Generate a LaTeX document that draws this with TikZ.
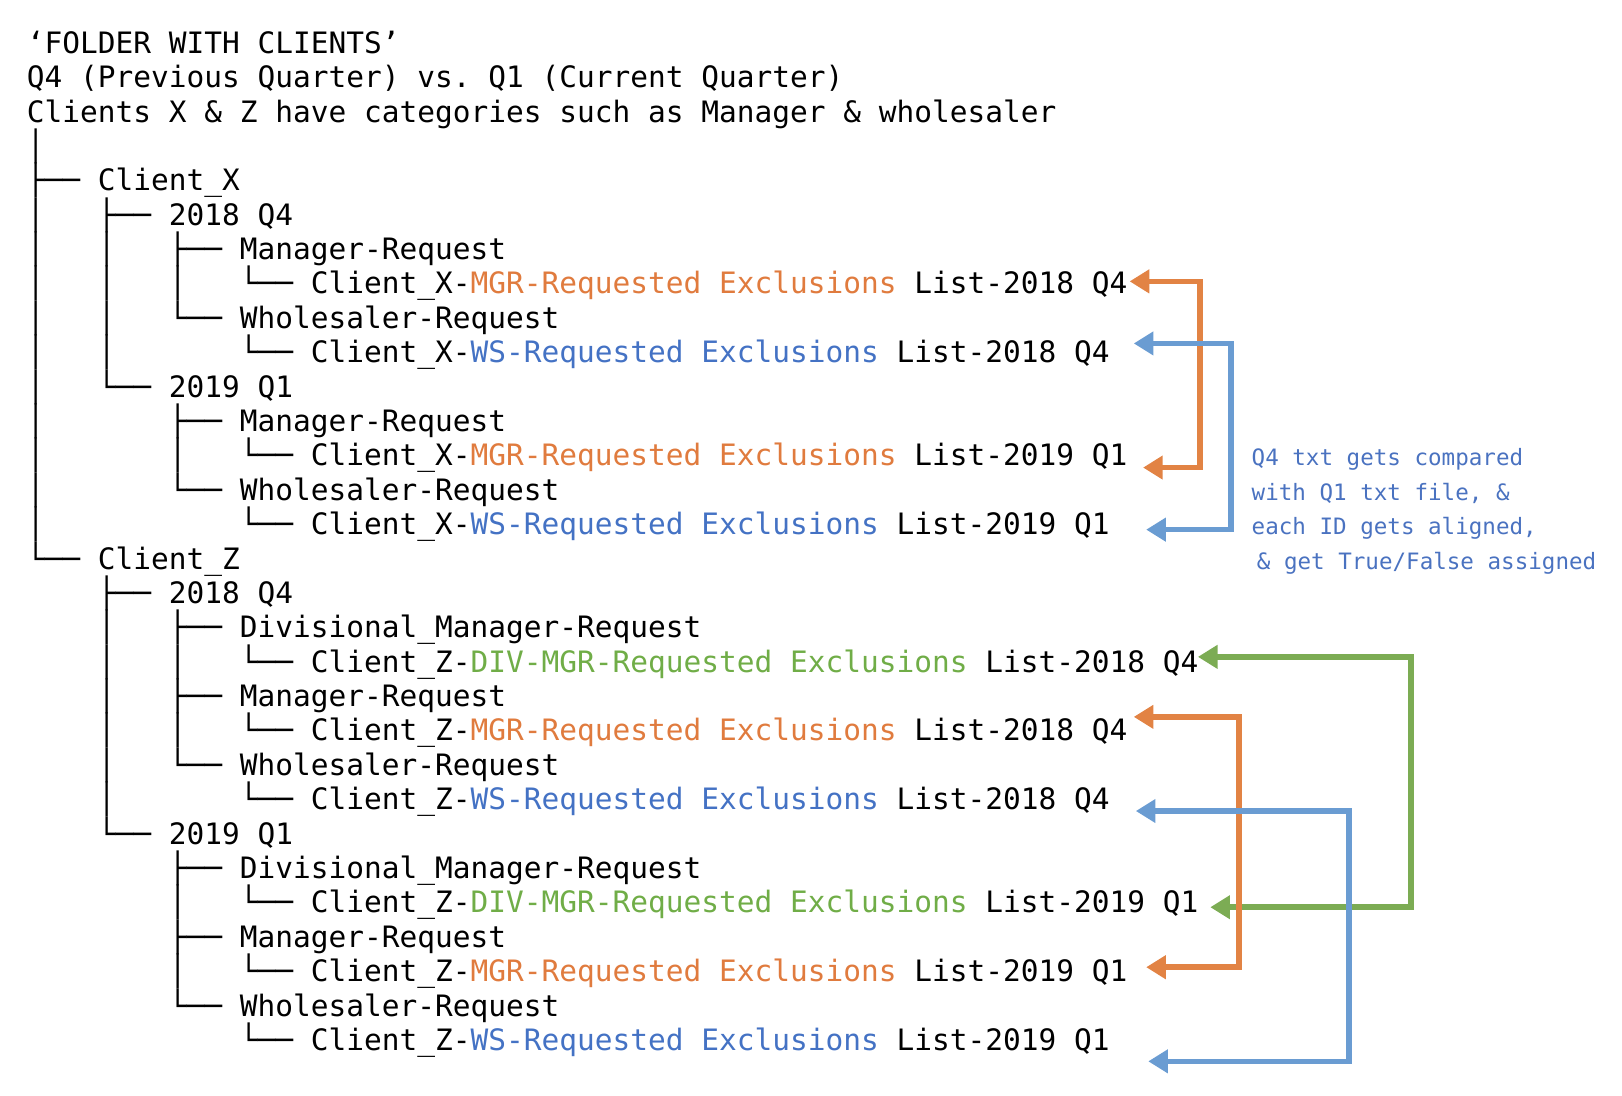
\documentclass[tikz,border=0pt]{standalone}
\usepackage{fontspec}
\usetikzlibrary{arrows.meta}
\newfontfamily\treemono{DejaVu Sans Mono}
\definecolor{txor}{HTML}{E07B3E}
\definecolor{txbl}{HTML}{4472C4}
\definecolor{txgr}{HTML}{70AD47}
\definecolor{aror}{HTML}{E28344}
\definecolor{arbl}{HTML}{6A9CD2}
\definecolor{argr}{HTML}{7CAC54}
\definecolor{notebl}{HTML}{4A72C0}
\newcommand{\MGR}{{\color{txor}MGR-Requested~Exclusions}}
\newcommand{\WS}{{\color{txbl}WS-Requested~Exclusions}}
\newcommand{\DIV}{{\color{txgr}DIV-MGR-Requested~Exclusions}}
\newcommand{\Vb}{│~~~}
\newcommand{\Bl}{~~~~}
\newcommand{\Te}{├──~}
\newcommand{\Le}{└──~}
\tikzset{
  ln/.style={anchor=base west, inner sep=0pt, outer sep=0pt,
    font=\treemono\fontsize{28.5}{33.24}\selectfont\frenchspacing},
  note/.style={anchor=base west, inner sep=0pt, outer sep=0pt, text=notebl,
    font=\treemono\fontsize{21.8}{33.24}\selectfont\frenchspacing},
  cmp/.style={line width=5.5pt, line join=miter,
    {Triangle[length=19pt,width=22pt]}-{Triangle[length=19pt,width=22pt]}}
}
\begin{document}
\begin{tikzpicture}[x=1pt,y=-1pt]
\useasboundingbox (0,0) rectangle (1568,1059.5);
\def\bx{26}
% header
\node[ln] (t0) at (\bx,{51.5+33.24*0}) {‘FOLDER~WITH~CLIENTS’};
\node[ln] (t1) at (\bx,{51.5+33.24*1}) {Q4~(Previous~Quarter)~vs.~Q1~(Current~Quarter)};
\node[ln] (t2) at (\bx,{51.5+33.24*2}) {Clients~X~\&~Z~have~categories~such~as~Manager~\&~wholesaler};
% tree
\node[ln] (t3) at (\bx,{51.5+33.24*3}) {│};
\node[ln] (t4) at (\bx,{51.5+33.24*4}) {\Te Client\_X};
\node[ln] (t5) at (\bx,{51.5+33.24*5}) {\Vb\Te 2018~Q4};
\node[ln] (t6) at (\bx,{51.5+33.24*6}) {\Vb\Vb\Te Manager-Request};
\node[ln] (t7) at (\bx,{51.5+33.24*7}) {\Vb\Vb\Vb\Le Client\_X-\MGR~List-2018~Q4};
\node[ln] (t8) at (\bx,{51.5+33.24*8}) {\Vb\Vb\Le Wholesaler-Request};
\node[ln] (t9) at (\bx,{51.5+33.24*9}) {\Vb\Vb\Bl\Le Client\_X-\WS~List-2018~Q4};
\node[ln] (t10) at (\bx,{51.5+33.24*10}) {\Vb\Le 2019~Q1};
\node[ln] (t11) at (\bx,{51.5+33.24*11}) {\Vb\Bl\Te Manager-Request};
\node[ln] (t12) at (\bx,{51.5+33.24*12}) {\Vb\Bl\Vb\Le Client\_X-\MGR~List-2019~Q1};
\node[ln] (t13) at (\bx,{51.5+33.24*13}) {\Vb\Bl\Le Wholesaler-Request};
\node[ln] (t14) at (\bx,{51.5+33.24*14}) {\Vb\Bl\Bl\Le Client\_X-\WS~List-2019~Q1};
\node[ln] (t15) at (\bx,{51.5+33.24*15}) {\Le Client\_Z};
\node[ln] (t16) at (\bx,{51.5+33.24*16}) {\Bl\Te 2018~Q4};
\node[ln] (t17) at (\bx,{51.5+33.24*17}) {\Bl\Vb\Te Divisional\_Manager-Request};
\node[ln] (t18) at (\bx,{51.5+33.24*18}) {\Bl\Vb\Vb\Le Client\_Z-\DIV~List-2018~Q4};
\node[ln] (t19) at (\bx,{51.5+33.24*19}) {\Bl\Vb\Te Manager-Request};
\node[ln] (t20) at (\bx,{51.5+33.24*20}) {\Bl\Vb\Vb\Le Client\_Z-\MGR~List-2018~Q4};
\node[ln] (t21) at (\bx,{51.5+33.24*21}) {\Bl\Vb\Le Wholesaler-Request};
\node[ln] (t22) at (\bx,{51.5+33.24*22}) {\Bl\Vb\Bl\Le Client\_Z-\WS~List-2018~Q4};
\node[ln] (t23) at (\bx,{51.5+33.24*23}) {\Bl\Le 2019~Q1};
\node[ln] (t24) at (\bx,{51.5+33.24*24}) {\Bl\Bl\Te Divisional\_Manager-Request};
\node[ln] (t25) at (\bx,{51.5+33.24*25}) {\Bl\Bl\Vb\Le Client\_Z-\DIV~List-2019~Q1};
\node[ln] (t26) at (\bx,{51.5+33.24*26}) {\Bl\Bl\Te Manager-Request};
\node[ln] (t27) at (\bx,{51.5+33.24*27}) {\Bl\Bl\Vb\Le Client\_Z-\MGR~List-2019~Q1};
\node[ln] (t28) at (\bx,{51.5+33.24*28}) {\Bl\Bl\Le Wholesaler-Request};
\node[ln] (t29) at (\bx,{51.5+33.24*29}) {\Bl\Bl\Bl\Le Client\_Z-\WS~List-2019~Q1};
% note
\node[note] (n1) at (1210,{51.5+33.24*12}) {Q4~txt~gets~compared};
\node[note] (n2) at (1210,{51.5+33.24*13}) {with~Q1~txt~file,~\&};
\node[note] (n3) at (1210,{51.5+33.24*14}) {each~ID~gets~aligned,};
\node[note] (n4) at (1215,{51.5+33.24*15}) {\&~get~True/False~assigned};
% arrow end points
\coordinate (oa1) at (1092,272);  \coordinate (ob1) at (1105,452);
\coordinate (ba1) at (1096,332);  \coordinate (bb1) at (1108,512);
\coordinate (ga)  at (1158,635);  \coordinate (gb)  at (1170,877);
\coordinate (oa2) at (1096,693);  \coordinate (ob2) at (1108,935);
\coordinate (ba2) at (1098,784);  \coordinate (bb2) at (1110,1026);
% connectors (green, then orange, then blue on top)
\draw[cmp, argr] (ga) -- (1364,635) -- (1364,877) -- (gb);
\draw[cmp, aror] (oa1) -- (1160,272) -- (1160,452) -- (ob1);
\draw[cmp, aror] (oa2) -- (1198,693) -- (1198,935) -- (ob2);
\draw[cmp, arbl] (ba1) -- (1190,332) -- (1190,512) -- (bb1);
\draw[cmp, arbl] (ba2) -- (1304,784) -- (1304,1026) -- (bb2);
\end{tikzpicture}
\end{document}
